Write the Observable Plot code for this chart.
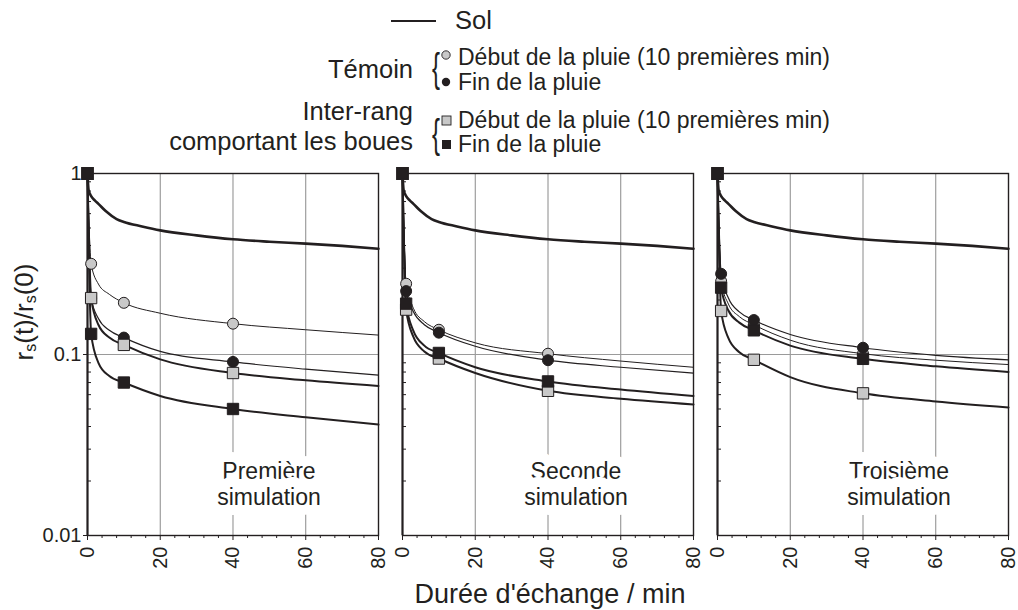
<!DOCTYPE html>
<html>
<head>
<meta charset="utf-8">
<script src="https://cdn.jsdelivr.net/npm/d3@7"></script>
<script src="https://cdn.jsdelivr.net/npm/@observablehq/plot@0.6"></script>
<style>
  html, body { margin: 0; padding: 0; background: #ffffff; }
  #wrap { position: relative; width: 1018px; height: 610px; overflow: hidden;
          font-family: "Liberation Sans", Arial, Helvetica, sans-serif; color: #231f20; }
  #wrap svg { position: absolute; left: 0; top: 0; }
</style>
</head>
<body>
<div id="wrap"></div>
<script>
// ---------------- data ----------------
const panels = ["Première simulation", "Seconde simulation", "Troisième simulation"];
const seriesKeys = ["temoinDebut", "temoinFin", "interDebut", "interFin"];

const curveTimes = [0, 1, 3, 6, 10, 20, 40, 60, 80];
// times carrying a measurement marker
const markerTimes = [1, 10, 40];

// "Sol" curve (same in the three panels)
const solTimes  = [0, 0.3, 1, 2, 3, 5, 8, 10, 15, 20, 30, 40, 50, 60, 70, 80];
const solValues = [1, 0.81, 0.75, 0.71, 0.68, 0.62, 0.56, 0.54, 0.51, 0.485, 0.455, 0.433, 0.42, 0.41, 0.398, 0.384];

// rs(t)/rs(0) per panel (first, second, third simulation), at curveTimes
const temoinDebut = [
  [1, 0.317, 0.245, 0.215, 0.193, 0.169, 0.148, 0.137, 0.128],
  [1, 0.246, 0.180, 0.152, 0.137, 0.116, 0.101, 0.092, 0.085],
  [1, 0.254, 0.190, 0.162, 0.146, 0.120, 0.101, 0.093, 0.088]
];
const temoinFin = [
  [1, 0.205, 0.158, 0.136, 0.124, 0.104, 0.091, 0.083, 0.077],
  [1, 0.224, 0.172, 0.146, 0.132, 0.111, 0.093, 0.085, 0.079],
  [1, 0.279, 0.205, 0.172, 0.155, 0.129, 0.109, 0.099, 0.0935]
];
const interDebut = [
  [1, 0.205, 0.146, 0.124, 0.113, 0.094, 0.079, 0.072, 0.067],
  [1, 0.177, 0.125, 0.104, 0.095, 0.079, 0.063, 0.057, 0.053],
  [1, 0.174, 0.123, 0.103, 0.0935, 0.075, 0.061, 0.055, 0.051]
];
const interFin = [
  [1, 0.130, 0.090, 0.076, 0.070, 0.059, 0.050, 0.045, 0.041],
  [1, 0.191, 0.135, 0.112, 0.102, 0.085, 0.071, 0.064, 0.059],
  [1, 0.234, 0.175, 0.150, 0.136, 0.112, 0.0946, 0.086, 0.080]
];

// axes
const xTicks = [0, 20, 40, 60, 80];
const xMinorTicks = [4, 8, 12, 16, 24, 28, 32, 36, 44, 48, 52, 56, 64, 68, 72, 76];
const yTicks = [0.01, 0.1, 1];
const yTickLabels = ["0.01", "0.1", "1"];
const yMinorTicks = [0.02, 0.03, 0.04, 0.05, 0.06, 0.07, 0.08, 0.09, 0.2, 0.3, 0.4, 0.5, 0.6, 0.7, 0.8, 0.9];
const gridX = [20, 40, 60];
const gridY = [0.1];

// texts
const xTitle = "Durée d'échange / min";
const legendSol = "Sol";
const legendGroups = ["Témoin", "Inter-rang", "comportant les boues"];
const legendItems = ["Début de la pluie (10 premières min)", "Fin de la pluie"];

// ---------------- styles ----------------
const INK = "#231f20";
const GREY = "#c8c8c8";
const style = {
  temoinDebut: {fill: GREY, symbol: "circle", r: 5.5, width: 1},
  temoinFin:   {fill: INK,  symbol: "circle", r: 5.5, width: 1.2},
  interDebut:  {fill: GREY, symbol: "square", r: 6.4, width: 2},
  interFin:    {fill: INK,  symbol: "square", r: 6.4, width: 2}
};
const panelLabelDx = [36, 28, 36];

// ---------------- tables ----------------
const seriesValues = {temoinDebut, temoinFin, interDebut, interFin};
const curveRows = [];
panels.forEach((p, i) => seriesKeys.forEach(k => curveTimes.forEach((t, j) =>
  curveRows.push({panel: p, key: k, t, v: seriesValues[k][i][j]}))));
const solRows = panels.flatMap(p => solTimes.map((t, j) => ({panel: p, t, v: solValues[j]})));
const markerRows = curveRows.filter(d => markerTimes.includes(d.t));
const originRows = panels.map(p => ({panel: p, t: curveTimes[0], v: temoinDebut[0][0]}));
const yLabel = new Map(yTicks.map((v, i) => [v, yTickLabels[i]]));

// ---------------- chart ----------------
const chart = Plot.plot({
  width: 1018,
  height: 610,
  marginLeft: 87,
  marginRight: 10,
  marginTop: 173,
  marginBottom: 75,
  style: {fontFamily: '"Liberation Sans", Arial, sans-serif', color: INK, background: "transparent"},
  fx: {domain: panels, paddingInner: 0.0762, paddingOuter: 0, round: false, axis: null},
  x: {domain: [0, 80]},
  y: {type: "log", domain: [0.01, 1]},
  marks: [
    Plot.ruleX(gridX, {stroke: "#8a8a8a", strokeWidth: 1}),
    Plot.ruleY(gridY, {stroke: "#9a9a9a", strokeWidth: 1}),
    ...panels.map((p, i) => Plot.text([p], {
      fx: d => d, text: d => d.replace(" ", "\n"),
      frameAnchor: "bottom", dx: panelLabelDx[i], dy: -31,
      fontSize: 23, lineHeight: 1.13, fill: INK,
      stroke: "white", strokeWidth: 20, strokeLinejoin: "round"
    })),
    Plot.frame({stroke: INK, strokeWidth: 1.4}),
    Plot.ruleX([xTicks[0]], {stroke: INK, strokeWidth: 2}),
    Plot.axisX(xTicks, {tickSize: 5, tickRotate: -90, tickPadding: 6, fontSize: 20, label: null}),
    Plot.axisX(xMinorTicks, {tickSize: 3, tickFormat: () => "", label: null}),
    Plot.axisY(yTicks, {anchor: "left", tickSize: 4, tickPadding: 2, fontSize: 20,
                        tickFormat: d => yLabel.get(d), label: null}),
    Plot.axisY(yMinorTicks, {anchor: "left", tickSize: -4, tickFormat: () => "", label: null, facetAnchor: null}),
    Plot.line(solRows, {fx: "panel", x: "t", y: "v", stroke: INK, strokeWidth: 2.6, curve: "monotone-x"}),
    ...seriesKeys.map(k => Plot.line(curveRows.filter(d => d.key === k), {
      fx: "panel", x: "t", y: "v", stroke: INK, strokeWidth: style[k].width, curve: "monotone-x"
    })),
    ...seriesKeys.map(k => Plot.dot(markerRows.filter(d => d.key === k), {
      fx: "panel", x: "t", y: "v", symbol: style[k].symbol, r: style[k].r,
      fill: style[k].fill, stroke: INK, strokeWidth: 1
    })),
    Plot.dot(originRows, {fx: "panel", x: "t", y: "v", symbol: "square", r: 6.4, fill: INK, stroke: INK})
  ]
});
document.getElementById("wrap").appendChild(chart);

// ---------------- legend and titles (overlay) ----------------
const ov = d3.select("#wrap").append("svg")
  .attr("width", 1018).attr("height", 610)
  .style("pointer-events", "none")
  .attr("font-family", '"Liberation Sans", Arial, sans-serif')
  .attr("fill", INK);

// Sol
ov.append("line").attr("x1", 391).attr("x2", 436).attr("y1", 21).attr("y2", 21)
  .attr("stroke", INK).attr("stroke-width", 2.2);
ov.append("text").attr("x", 455).attr("y", 29).attr("font-size", 25.5).text(legendSol);

// group labels
ov.append("text").attr("x", 413).attr("y", 78).attr("font-size", 25.5).attr("text-anchor", "end").text(legendGroups[0]);
ov.append("text").attr("x", 413).attr("y", 120).attr("font-size", 25.5).attr("text-anchor", "end").text(legendGroups[1]);
ov.append("text").attr("x", 413).attr("y", 150).attr("font-size", 25.5).attr("text-anchor", "end").text(legendGroups[2]);

// braces
[[436, 82], [436, 148]].forEach(([x, y]) => {
  ov.append("text").attr("transform", `translate(${x},${y}) scale(0.6,1)`)
    .attr("font-size", 40).attr("text-anchor", "middle").attr("font-weight", 300).text("{");
});

// item symbols
ov.append("circle").attr("cx", 446).attr("cy", 55).attr("r", 4.2).attr("fill", GREY).attr("stroke", INK).attr("stroke-width", 0.9);
ov.append("circle").attr("cx", 446).attr("cy", 82).attr("r", 4.2).attr("fill", INK);
ov.append("rect").attr("x", 442).attr("y", 116).attr("width", 9).attr("height", 9).attr("fill", GREY).attr("stroke", INK).attr("stroke-width", 0.9);
ov.append("rect").attr("x", 442).attr("y", 140).attr("width", 9).attr("height", 9).attr("fill", INK);

// item labels
[[65, 0], [90, 1], [128, 0], [152, 1]].forEach(([y, i]) => {
  ov.append("text").attr("x", 458).attr("y", y).attr("font-size", 23).text(legendItems[i]);
});

// y title with subscripts
const yt = ov.append("text").attr("transform", "translate(33,312) rotate(-90)")
  .attr("text-anchor", "middle").attr("font-size", 26);
yt.append("tspan").text("r");
yt.append("tspan").attr("font-size", 16).attr("dy", 3).text("s");
yt.append("tspan").attr("dy", -3).text("(t)/r");
yt.append("tspan").attr("font-size", 16).attr("dy", 3).text("s");
yt.append("tspan").attr("dy", -3).text("(0)");

// x title
ov.append("text").attr("x", 550).attr("y", 603).attr("font-size", 27)
  .attr("text-anchor", "middle").text(xTitle);
</script>
</body>
</html>
